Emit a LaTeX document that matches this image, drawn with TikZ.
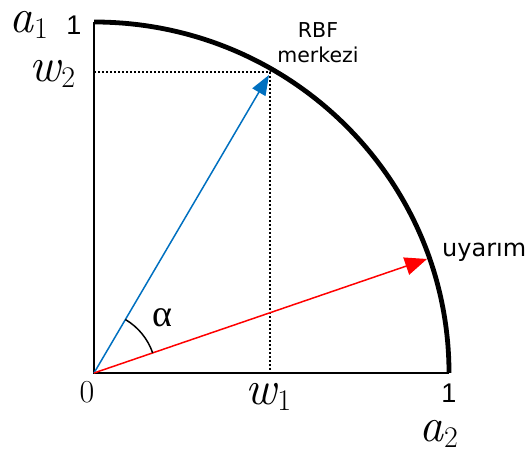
\documentclass[tikz,border=0pt]{standalone}
\usepackage{fontspec}
\usetikzlibrary{arrows.meta,calc}
\newfontfamily\labsans{DejaVu Sans}
\newfontfamily\numsans{Liberation Sans}
\newfontfamily\grk{Liberation Serif}
\newcommand\labsub[2]{{\itshape #1}\kern1pt\raisebox{-6pt}{\fontsize{30}{30}\selectfont #2}}
\definecolor{vecblue}{RGB}{0,112,192}
\definecolor{vecred}{RGB}{255,0,0}
\begin{document}
\begin{tikzpicture}[x=1pt,y=1pt,
  axis/.style={line width=1.6pt,black},
  bigarc/.style={line width=4.8pt,black},
  guide/.style={line width=1.8pt,dash pattern=on 1.8pt off 2.2pt},
  bluevec/.style={line width=1.5pt,vecblue,-{Triangle[length=20pt,width=15pt]}},
  redvec/.style={line width=1.5pt,vecred,-{Triangle[length=22pt,width=18pt]}},
  mathlab/.style={inner sep=0pt,font=\fontsize{48}{52}\selectfont},
  numlab/.style={inner sep=0pt,font=\numsans\fontsize{27}{30}\selectfont},
  textlab/.style={inner sep=0pt,font=\labsans\fontsize{20.5}{25}\selectfont,align=center}]
\useasboundingbox (0,0) rectangle (530,457);
% key points
\coordinate (O) at (94,84);
\coordinate (top) at (94,435);
\coordinate (right) at (449,84);
\coordinate (w) at (270,385);
\coordinate (wx) at (94,385);
\coordinate (wy) at (270,84);
\coordinate (btip) at (269,382);
\coordinate (rtip) at (427,198);
% axes and arc
\draw[axis] (top) -- (O) -- (right);
\draw[bigarc,line cap=butt] (top) arc[start angle=90,end angle=0,x radius=355,y radius=351];
% dotted guides
\draw[guide] (wx) -- (w) -- (wy);
% vectors
\draw[bluevec] (O) -- (btip);
\draw[redvec] (O) -- (rtip);
% angle
\draw[line width=1.5pt] ($(O)+(18.9:62)$) arc[start angle=18.9,end angle=59.6,radius=62];
% labels
\node[mathlab,anchor=base west] (a1) at (9,424) {\labsub{a}{1}};
\node[numlab,anchor=base] (one1) at (74,422) {1};
\node[mathlab,anchor=base west] (w2) at (29,375) {\labsub{w}{2}};
\node[inner sep=0pt,anchor=base,font=\fontsize{32}{34}\selectfont] (zero) at (87,54) {0};
\node[mathlab,anchor=base west] (w1) at (245,52) {\labsub{w}{1}};
\node[numlab,anchor=base] (one2) at (449,54) {1};
\node[mathlab,anchor=base west] (a2) at (419,15) {\labsub{a}{2}};
\node[inner sep=0pt,font=\grk\fontsize{38}{40}\selectfont] (alpha) at (162,139) {α};
\node[textlab,anchor=base] (rbf) at (318,419) {RBF};
\node[textlab,anchor=base] (merk) at (318,394) {merkezi};
\node[inner sep=0pt,anchor=base west,font=\labsans\fontsize{24}{28}\selectfont] (uy) at (442,200) {uyarım};
\end{tikzpicture}
\end{document}
